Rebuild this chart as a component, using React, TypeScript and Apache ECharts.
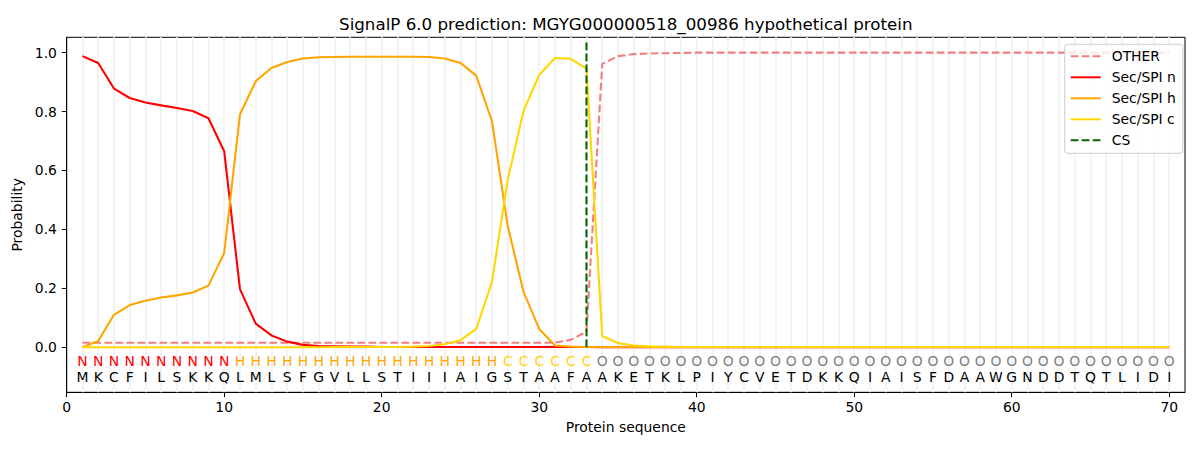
import React, { useEffect, useRef } from "react";
import * as echarts from "echarts";

const titleText = "SignalP 6.0 prediction: MGYG000000518_00986 hypothetical protein";

const residues = [
  "M","K","C","F","I","L","S","K","K","Q",
  "L","M","L","S","F","G","V","L","L","S",
  "T","I","I","I","A","I","G","S","T","A",
  "A","F","A","A","K","E","T","K","L","P",
  "I","Y","C","V","E","T","D","K","K","Q",
  "I","A","I","S","F","D","A","A","W","G",
  "N","D","D","T","Q","T","L","I","D","I",
];

const regions = [
  "N","N","N","N","N","N","N","N","N","N",
  "H","H","H","H","H","H","H","H","H","H",
  "H","H","H","H","H","H","H","C","C","C",
  "C","C","C","O","O","O","O","O","O","O",
  "O","O","O","O","O","O","O","O","O","O",
  "O","O","O","O","O","O","O","O","O","O",
  "O","O","O","O","O","O","O","O","O","O",
];

const otherProb = [
  0.015,0.015,0.015,0.015,0.015,0.015,0.015,0.015,0.015,0.015,
  0.015,0.015,0.015,0.015,0.015,0.015,0.015,0.015,0.015,0.015,
  0.015,0.015,0.015,0.015,0.015,0.015,0.015,0.015,0.015,0.015,
  0.016,0.025,0.053,0.962,0.988,0.995,0.997,0.998,0.999,1.0,
  1.0,1.0,1.0,1.0,1.0,1.0,1.0,1.0,1.0,1.0,
  1.0,1.0,1.0,1.0,1.0,1.0,1.0,1.0,1.0,1.0,
  1.0,1.0,1.0,1.0,1.0,1.0,1.0,1.0,1.0,1.0,
];

const secN = [
  0.988,0.965,0.878,0.846,0.831,0.821,0.812,0.802,0.777,0.665,
  0.197,0.080,0.040,0.019,0.008,0.004,0.003,0.002,0.002,0.001,
  0.001,0.001,0.001,0.001,0.001,0.001,0.001,0.001,0.001,0.001,
  0.001,0.001,0.001,0.0,0.0,0.0,0.0,0.0,0.0,0.0,
  0.0,0.0,0.0,0.0,0.0,0.0,0.0,0.0,0.0,0.0,
  0.0,0.0,0.0,0.0,0.0,0.0,0.0,0.0,0.0,0.0,
  0.0,0.0,0.0,0.0,0.0,0.0,0.0,0.0,0.0,0.0,
];

const secH = [
  0.0,0.021,0.110,0.143,0.158,0.169,0.176,0.186,0.209,0.320,
  0.790,0.903,0.948,0.968,0.980,0.984,0.985,0.986,0.986,0.986,
  0.986,0.986,0.985,0.980,0.965,0.922,0.767,0.412,0.188,0.062,
  0.006,0.002,0.001,0.001,0.001,0.001,0.001,0.001,0.001,0.001,
  0.001,0.001,0.001,0.001,0.001,0.001,0.001,0.001,0.001,0.001,
  0.001,0.001,0.001,0.001,0.001,0.001,0.001,0.001,0.001,0.001,
  0.001,0.001,0.001,0.001,0.001,0.001,0.001,0.001,0.001,0.001,
];

const secC = [
  0.0,0.0,0.0,0.0,0.0,0.0,0.0,0.0,0.0,0.0,
  0.0,0.0,0.0,0.0,0.0,0.0,0.001,0.001,0.001,0.001,
  0.001,0.002,0.004,0.010,0.024,0.062,0.221,0.568,0.802,0.924,
  0.982,0.979,0.946,0.038,0.014,0.006,0.003,0.002,0.001,0.001,
  0.001,0.001,0.001,0.001,0.001,0.001,0.001,0.001,0.001,0.001,
  0.001,0.001,0.001,0.001,0.001,0.001,0.001,0.001,0.001,0.001,
  0.001,0.001,0.001,0.001,0.001,0.001,0.001,0.001,0.001,0.001,
];

const csPosition = 33;
const csTop = 1.037;
const yTicks = [0, 0.2, 0.4, 0.6, 0.8, 1.0];
const xTicks = [0, 10, 20, 30, 40, 50, 60, 70];
const regionRowY = -0.047;
const residueRowY = -0.1;

const regionColors: Record<string, string> = {
  N: "#ff0000",
  H: "#ffa500",
  C: "#ffd700",
  O: "#808080",
};

const FONT = "DejaVu Sans";

export default function App() {
  const ref = useRef<HTMLDivElement>(null);

  useEffect(() => {
    if (!ref.current) return;
    const chart = echarts.init(ref.current, undefined, { renderer: "svg" });
    const positions = residues.map((_, i) => i + 1);
    const pairs = (arr: number[]) => arr.map((v, i) => [positions[i], v]);

    const letterSeries = (letters: string[], y: number, colorOf: (s: string) => string, name: string) => ({
      type: "custom",
      name,
      silent: true,
      z: 5,
      data: letters.map((_, i) => [positions[i], y]),
      renderItem: (params: any, api: any) => {
        const pt = api.coord([api.value(0), api.value(1)]);
        const ch = letters[params.dataIndex];
        return {
          type: "text",
          x: pt[0],
          y: pt[1],
          style: {
            text: ch,
            fill: colorOf(ch),
            font: `13.9px "${FONT}"`,
            align: "center",
            verticalAlign: "middle",
          },
        };
      },
    });

    const lw = 2.08;
    const dash = [7.7, 3.3];
    chart.setOption({
      animation: false,
      backgroundColor: "#ffffff",
      textStyle: { fontFamily: FONT },
      title: {
        text: titleText,
        left: 625.8,
        top: 15,
        textAlign: "center",
        padding: 0,
        textStyle: { fontFamily: FONT, fontSize: 16.7, fontWeight: "normal", color: "#000" },
      },
      grid: {
        left: 66.7,
        top: 37.3,
        width: 1118.3,
        height: 355,
        show: true,
        borderColor: "#000",
        borderWidth: 1,
        backgroundColor: "transparent",
        outerBoundsMode: "none",
      },
      legend: {
        orient: "vertical",
        left: 1064.7,
        top: 44.3,
        padding: [5, 7, 6, 5],
        itemGap: 7,
        itemWidth: 30,
        itemHeight: 14,
        backgroundColor: "rgba(255,255,255,0.8)",
        borderColor: "#cccccc",
        borderWidth: 1,
        borderRadius: 3,
        itemStyle: { opacity: 0 },
        data: ["OTHER", "Sec/SPI n", "Sec/SPI h", "Sec/SPI c", "CS"],
        textStyle: { fontFamily: FONT, fontSize: 13.9, color: "#000", padding: [0, 0, 0, 6] },
      },
      xAxis: {
        type: "value",
        min: 0,
        max: 71,
        name: "Protein sequence",
        nameLocation: "middle",
        nameGap: 28,
        nameTextStyle: { fontFamily: FONT, fontSize: 13.9, color: "#000" },
        axisLine: { show: true, onZero: false, lineStyle: { color: "#000", width: 1 } },
        axisTick: { show: true, length: 4.9, customValues: xTicks, lineStyle: { color: "#000" } },
        axisLabel: {
          customValues: xTicks,
          margin: 8,
          fontFamily: FONT,
          fontSize: 13.9,
          color: "#000",
        },
        splitLine: { show: false },
      },
      yAxis: {
        type: "value",
        min: -0.153,
        max: 1.052,
        name: "Probability",
        nameLocation: "middle",
        nameRotate: 90,
        nameGap: 38,
        nameTextStyle: { fontFamily: FONT, fontSize: 13.9, color: "#000" },
        axisLine: { show: true, onZero: false, lineStyle: { color: "#000", width: 1 } },
        axisTick: { show: true, length: 4.9, customValues: yTicks, lineStyle: { color: "#000" } },
        axisLabel: {
          customValues: yTicks,
          margin: 9.8,
          fontFamily: FONT,
          fontSize: 13.9,
          color: "#000",
          formatter: (v: number) => v.toFixed(1),
        },
        splitLine: { show: false },
      },
      series: [
        {
          type: "line",
          name: "OTHER",
          data: pairs(otherProb),
          symbol: "none",
          z: 2,
          lineStyle: { color: "#f08080", width: lw, type: dash },
          itemStyle: { color: "#f08080" },
          markLine: {
            silent: true,
            symbol: "none",
            label: { show: false },
            lineStyle: { color: "#f3f3f3", width: 2, type: "solid", opacity: 1 },
            data: positions.map((p) => ({ xAxis: p })),
            z: 1,
          },
        },
        {
          type: "line",
          name: "Sec/SPI n",
          data: pairs(secN),
          symbol: "none",
          z: 3,
          lineStyle: { color: "#ff0000", width: lw },
          itemStyle: { color: "#ff0000" },
        },
        {
          type: "line",
          name: "Sec/SPI h",
          data: pairs(secH),
          symbol: "none",
          z: 3,
          lineStyle: { color: "#ffa500", width: lw },
          itemStyle: { color: "#ffa500" },
        },
        {
          type: "line",
          name: "Sec/SPI c",
          data: pairs(secC),
          symbol: "none",
          z: 3,
          lineStyle: { color: "#ffd700", width: lw },
          itemStyle: { color: "#ffd700" },
        },
        {
          type: "line",
          name: "CS",
          data: [
            [csPosition, 0],
            [csPosition, csTop],
          ],
          symbol: "none",
          z: 4,
          lineStyle: { color: "#006400", width: lw, type: dash },
          itemStyle: { color: "#006400" },
        },
        letterSeries(regions, regionRowY, (s) => regionColors[s], "regions"),
        letterSeries(residues, residueRowY, () => "#000000", "residues"),
      ],
    });

    return () => chart.dispose();
  }, []);

  return (
    <div
      ref={ref}
      style={{ position: "fixed", left: 0, top: 0, width: 1200, height: 450, background: "#fff" }}
    />
  );
}
